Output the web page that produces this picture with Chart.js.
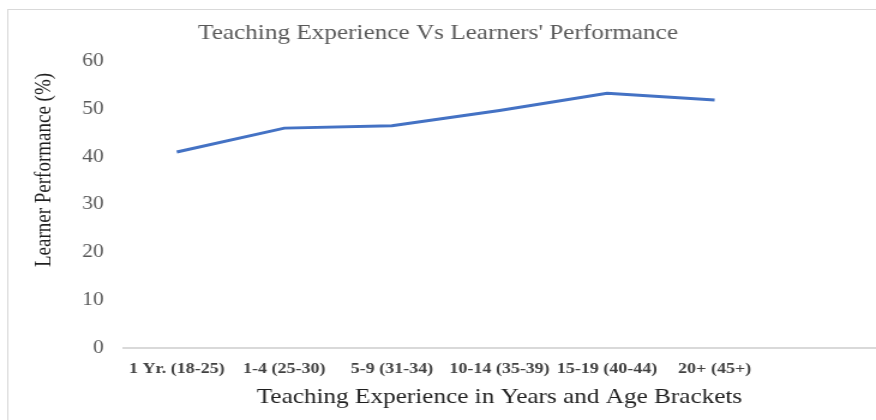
<!DOCTYPE html>
<html>
<head>
<meta charset="utf-8">
<script src="https://cdn.jsdelivr.net/npm/chart.js@4"></script>
<style>
  html, body { margin: 0; padding: 0; background: #fff; overflow: hidden; }
  #chart { display: block; width: 876px; height: 420px; }
</style>
</head>
<body>
<canvas id="chart" width="730" height="420" style="width:876px;height:420px"></canvas>
<script>
  // values
  const categories = ['1 Yr. (18-25)', '1-4 (25-30)', '5-9 (31-34)', '10-14 (35-39)', '15-19 (40-44)', '20+ (45+)', ''];
  const performance = [41.0, 46.0, 46.5, 49.7, 53.3, 51.9, null];
  const yTicks = [0, 10, 20, 30, 40, 50, 60];

  const serif = '"Liberation Serif", "Times New Roman", serif';

  // the reference looks stretched sideways, so the canvas is drawn narrow and widened by css
  const frameAndTitle = {
    id: 'frameAndTitle',
    beforeDraw(chart) {
      const { ctx } = chart;
      ctx.save();
      ctx.strokeStyle = '#d9d9d9';
      ctx.lineWidth = 1;
      ctx.strokeRect(6.5, 9.5, 800, 500);
      ctx.restore();
    },
    afterDraw(chart) {
      const { ctx } = chart;
      ctx.save();
      ctx.translate(37.5, 170);
      ctx.rotate(-Math.PI / 2);
      ctx.font = '19px ' + serif;
      ctx.fillStyle = '#1f1f1f';
      ctx.textAlign = 'center';
      ctx.textBaseline = 'middle';
      ctx.fillText('Learner Performance (%)', 0, 0);
      ctx.restore();
    },
  };

  new Chart(document.getElementById('chart'), {
    type: 'line',
    data: {
      labels: categories,
      datasets: [{
        label: 'Learner Performance',
        data: performance,
        borderColor: '#4472C4',
        backgroundColor: '#4472C4',
        borderWidth: 3,
        pointRadius: 0,
        pointHoverRadius: 0,
        tension: 0,
      }],
    },
    options: {
      responsive: false,
      animation: false,
      layout: { padding: 0 },
      plugins: {
        legend: { display: false },
        tooltip: { enabled: false },
        title: {
          display: true,
          text: "Teaching Experience Vs Learners' Performance",
          color: '#595959',
          font: { family: serif, size: 21, weight: 'normal' },
          padding: { top: 21, bottom: 15 },
        },
      },
      scales: {
        x: {
          type: 'category',
          offset: true,
          grid: { display: false, drawTicks: false },
          border: { display: true, color: '#d9d9d9', width: 2 },
          ticks: {
            color: '#404040',
            font: { family: serif, size: 15, weight: 'bold' },
            padding: 12,
            maxRotation: 0,
            autoSkip: false,
          },
          title: {
            display: true,
            text: 'Teaching Experience in Years and Age Brackets',
            color: '#1f1f1f',
            font: { family: serif, size: 21 },
            padding: { top: 0, bottom: 10 },
          },
          afterFit(scale) { scale.height = 72; },
        },
        y: {
          min: 0,
          max: 60,
          grid: { display: false, drawTicks: false },
          border: { display: false },
          afterBuildTicks(scale) { scale.ticks = yTicks.map(v => ({ value: v })); },
          ticks: {
            color: '#595959',
            font: { family: serif, size: 18 },
            padding: 16,
          },
          afterFit(scale) { scale.width = 102.5; },
        },
      },
    },
    plugins: [frameAndTitle],
  });
</script>
</body>
</html>
